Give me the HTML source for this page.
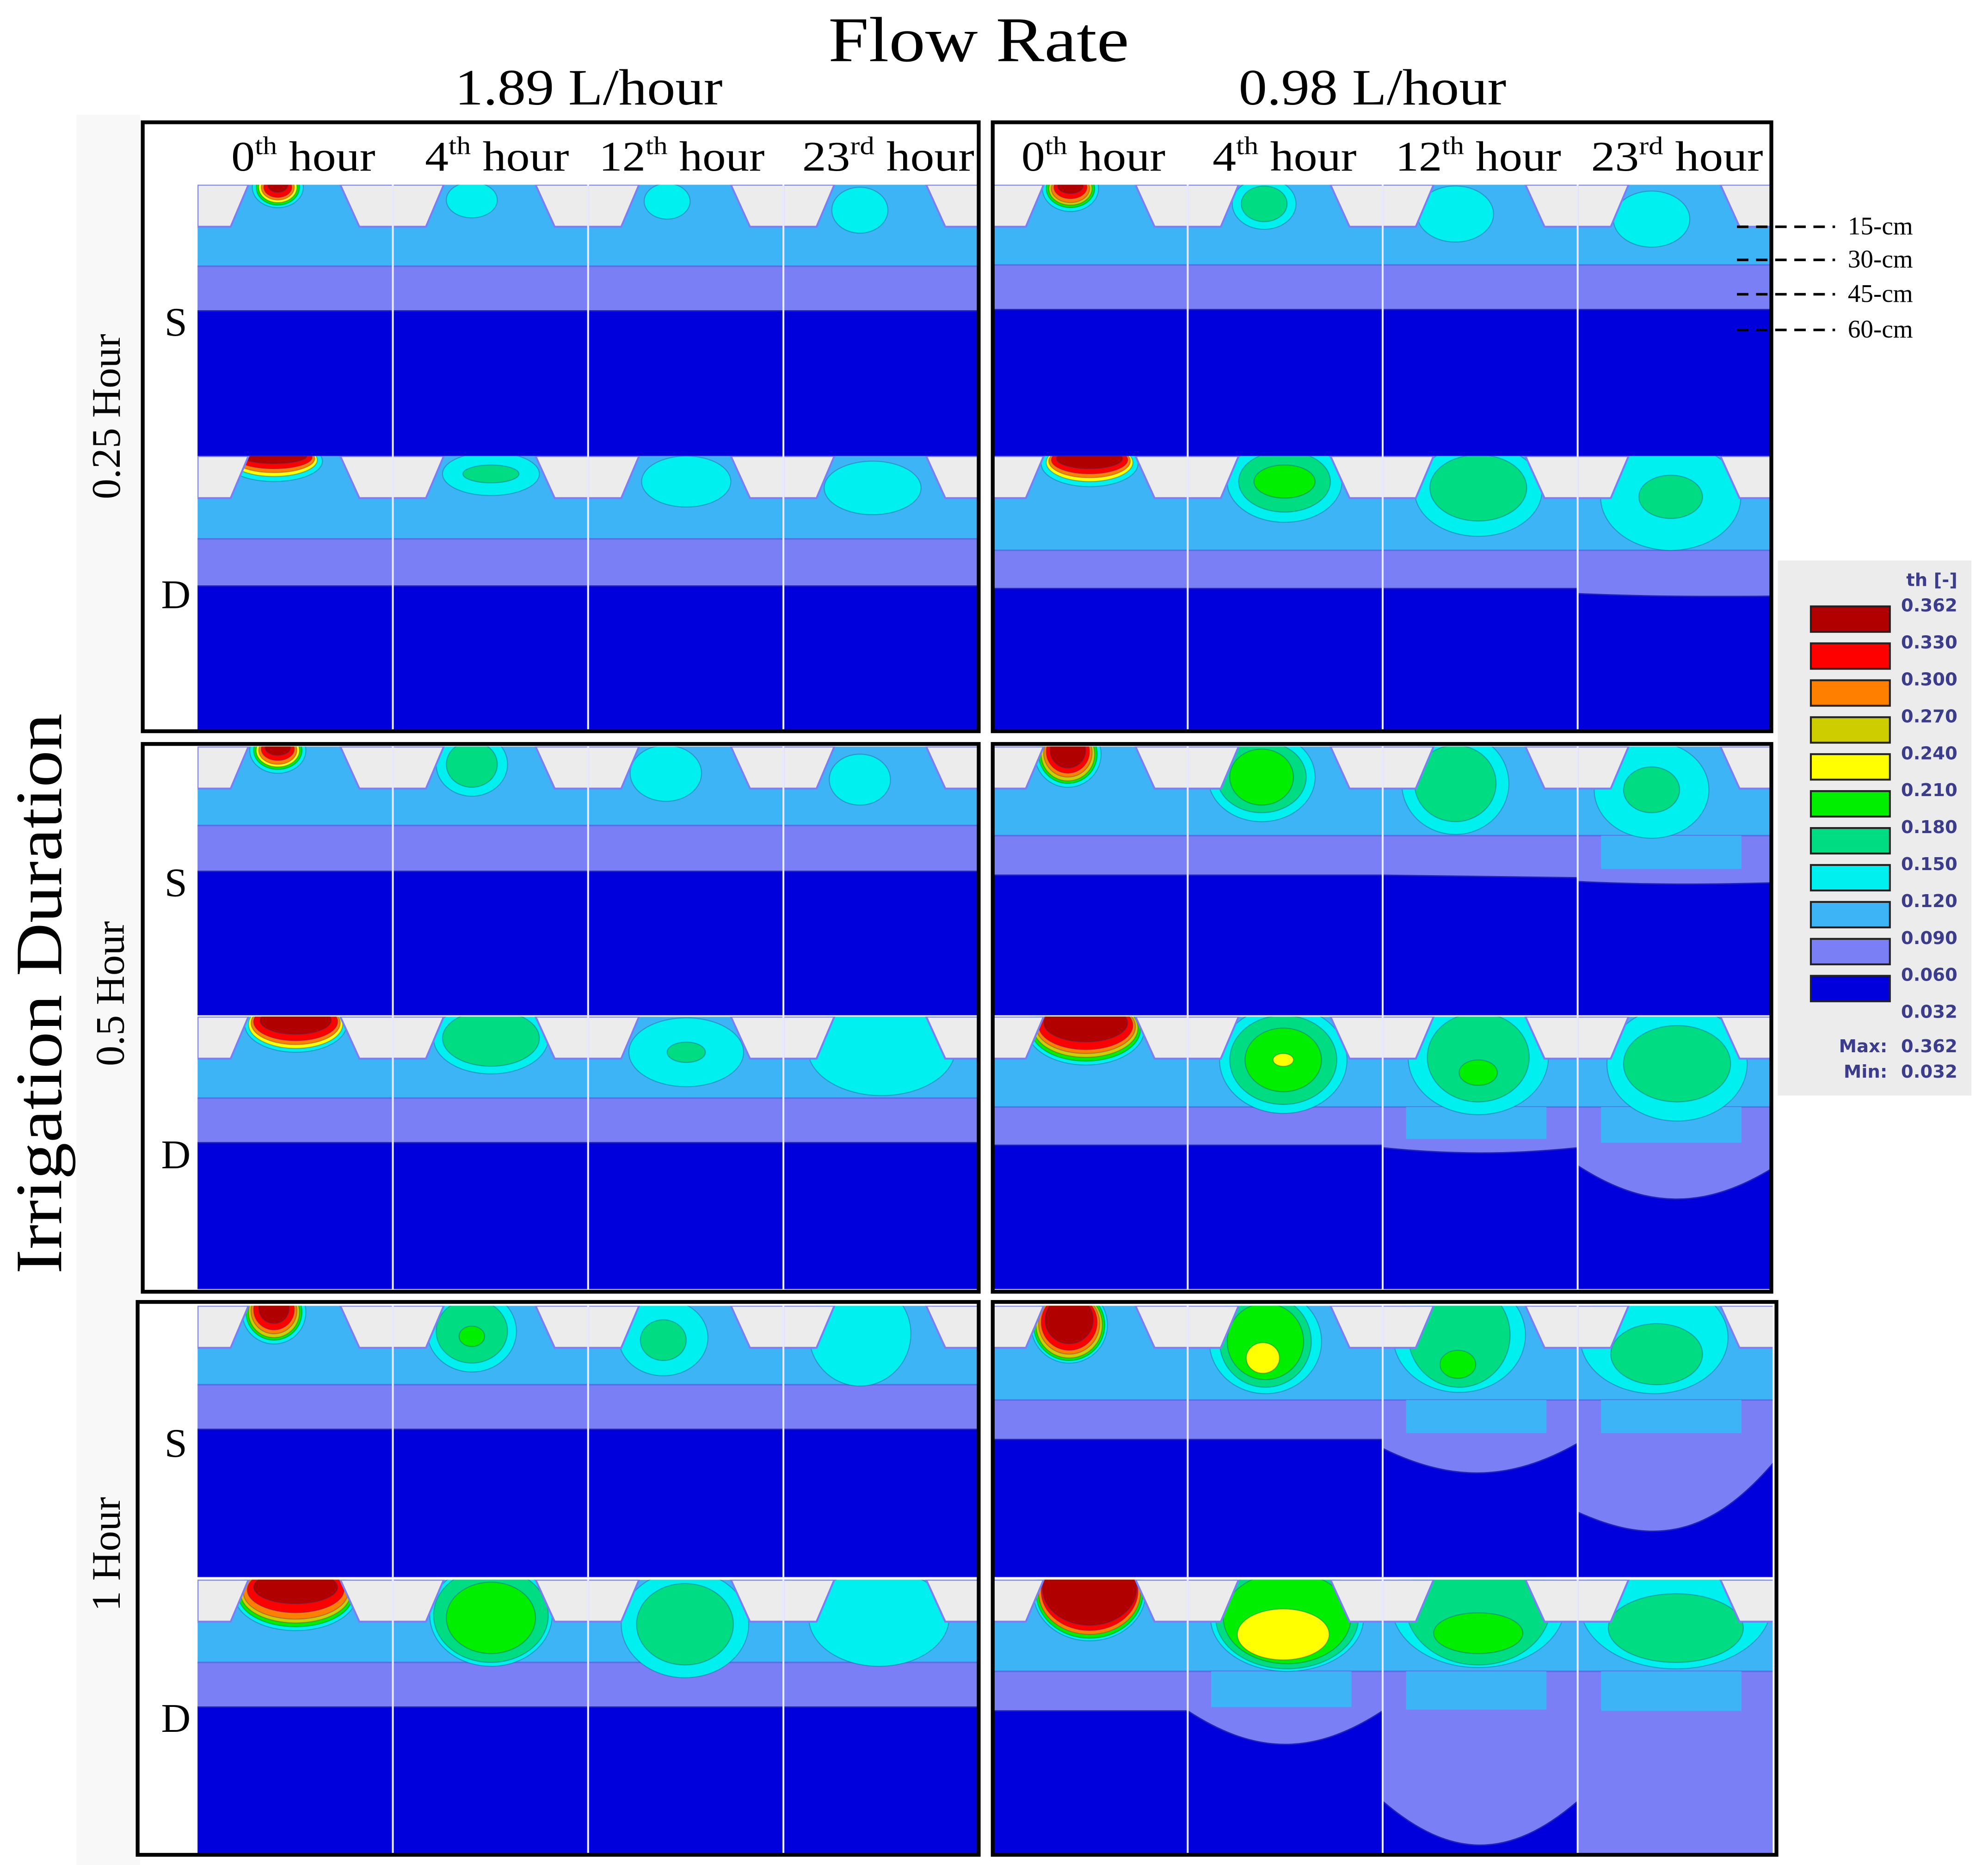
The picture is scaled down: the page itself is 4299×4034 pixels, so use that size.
<!DOCTYPE html>
<html><head><meta charset="utf-8"><style>
html,body{margin:0;padding:0;background:#fff;}
svg{display:block;}
text{font-family:"Liberation Serif",serif;fill:#000;}
.leg{font-family:"DejaVu Sans","Liberation Sans",sans-serif;fill:#3c3c8c;font-weight:bold;}
</style></head><body>
<svg id="fig" xmlns="http://www.w3.org/2000/svg" width="4299" height="4034" viewBox="0 0 1560 1464" preserveAspectRatio="none">
<rect x="0" y="0" width="1560" height="1464" fill="#fff"/>
<rect x="60" y="90" width="50" height="1374" fill="#f8f8f8"/>
<text x="768" y="48" font-size="50" text-anchor="middle" textLength="236" lengthAdjust="spacingAndGlyphs">Flow Rate</text>
<text x="462" y="82" font-size="40" text-anchor="middle" textLength="210" lengthAdjust="spacingAndGlyphs">1.89 L/hour</text>
<text x="1077" y="82" font-size="40" text-anchor="middle" textLength="210" lengthAdjust="spacingAndGlyphs">0.98 L/hour</text>
<text transform="translate(48,780) rotate(-90)" font-size="52" text-anchor="middle" textLength="440" lengthAdjust="spacingAndGlyphs">Irrigation Duration</text>
<text transform="translate(94,327) rotate(-90)" font-size="32" text-anchor="middle">0.25 Hour</text>
<text transform="translate(97,780) rotate(-90)" font-size="32" text-anchor="middle">0.5 Hour</text>
<text transform="translate(94,1220) rotate(-90)" font-size="32" text-anchor="middle">1 Hour</text>
<g id="plots"></g>
<g id="frames"></g>
<g id="legend"></g>
</svg>
<script>
const NS='http://www.w3.org/2000/svg';
const levelColors=['#b00000','#ff0000','#ff8000','#cdcd00','#ffff00','#00ee00','#00dc82','#00f0f0','#3cb4f5','#7b7ff5','#0000dc'];
const levelLabels=['0.362','0.330','0.300','0.270','0.240','0.210','0.180','0.150','0.120','0.090','0.060','0.032'];
const hourLabels=[['0','th'],['4','th'],['12','th'],['23','rd']];
// subplot layout: [side(0 left,1 right), top, height, rowLabel]
const subplots=[
 [0,145,213,'S'],[0,358,215,'D'],[1,145,213,'S'],[1,358,215,'D'],
 [0,586,211,'S'],[0,798,214,'D'],[1,586,211,'S'],[1,798,214,'D'],
 [0,1025,213,'S'],[0,1240,215,'D'],[1,1025,213,'S'],[1,1240,216,'D']];
// light-blue -> purple boundary depth per subplot
const lightDepth=[64,65,63,74, 62,64,70,71, 62,65,74,72];
// dark-blue top per cell: [left, center, right]
const darkTop=[
 [[99,99,99],[99,99,99],[99,99,99],[99,99,99]],
 [[102,102,102],[102,102,102],[102,102,102],[102,102,102]],
 [[98,98,98],[98,98,98],[98,98,98],[98,98,98]],
 [[104,104,104],[104,104,104],[104,104,104],[108,110,110]],
 [[98,98,98],[98,98,98],[98,98,98],[98,98,98]],
 [[99,99,99],[99,99,99],[99,99,99],[99,99,99]],
 [[101,101,101],[101,101,101],[101,102,103],[106,108,107]],
 [[101,101,101],[101,101,101],[103,107,103],[117,143,119]],
 [[97,97,97],[97,97,97],[97,97,97],[97,97,97]],
 [[100,100,100],[100,100,100],[100,100,100],[100,100,100]],
 [[105,105,105],[105,105,105],[112,131,108],[162,175,124]],
 [[103,103,103],[103,129,103],[174,208,174],[230,230,230]]];
// light-blue extension (patch below the wetting bulb) per cell, 0 = none
const lightExt=[
 [0,0,0,0],[0,0,0,0],[0,0,0,0],[0,0,0,0],
 [0,0,0,0],[0,0,0,0],[0,0,0,96],[0,0,96,99],
 [0,0,0,0],[0,0,0,0],[0,0,100,100],[0,100,102,103]];
// wetting bulbs per cell: [level, dx, dy, rx, ry]
const bulbs=[
 [[[7,63,2,20,16],[5,63,2,17,14],[4,63,2,15,12],[2,63,2,13,10],[1,63,2,11,8],[0,63,0,8,6]],[[7,62,12,20,14]],[[7,62,13,18,14]],[[7,60,20,22,18]]],
 [[[7,60,4,38,16],[4,60,3,34,13],[2,60,2,32,11],[1,60,1,30,9],[0,60,0,26,6]],[[7,77,14,38,17],[6,77,14,22,7]],[[7,77,20,35,20]],[[7,70,25,38,21]]],
 [[[7,61,3,22,18],[5,61,3,19,15],[3,61,3,17,13],[2,61,3,15,11],[1,61,2,13,9],[0,61,1,10,6]],[[7,60,15,25,20],[6,60,15,18,14]],[[7,57,23,30,22]],[[7,58,27,30,22]]],
 [[[7,76,6,38,18],[4,76,5,34,15],[2,76,4,32,13],[1,76,3,30,11],[0,76,2,26,8]],[[7,76,20,45,32],[6,76,20,36,24],[5,76,20,24,13]],[[7,75,27,50,36],[6,75,25,38,26]],[[7,73,32,55,42],[6,73,32,25,17]]],
 [[[7,63,3,22,18],[5,63,3,19,15],[4,63,3,17,13],[2,63,3,15,11],[1,63,2,13,9],[0,63,1,10,6]],[[7,62,14,28,25],[6,62,14,20,18]],[[7,61,21,28,22]],[[7,60,26,24,20]]],
 [[[7,77,6,40,22],[4,77,6,37,19],[2,77,5,35,17],[1,77,4,33,15],[0,77,3,28,11]],[[7,77,17,45,28],[6,77,17,38,22]],[[7,77,28,45,27],[6,77,28,15,8]],[[7,77,25,58,37]]],
 [[[7,59,6,26,26],[5,59,6,23,23],[3,59,6,21,21],[2,59,5,19,19],[1,59,4,17,17],[0,59,3,14,14]],[[7,58,24,42,35],[6,58,24,35,28],[5,58,24,25,22]],[[7,57,29,42,40],[6,57,29,32,30]],[[7,58,34,45,38],[6,58,34,22,18]]],
 [[[7,73,10,46,28],[5,73,10,43,25],[3,73,9,41,23],[2,73,8,39,21],[1,73,7,37,19],[0,73,5,33,15]],[[7,75,34,50,42],[6,75,34,42,35],[5,75,34,30,25],[4,75,34,8,5]],[[7,75,32,55,45],[6,75,32,40,35],[5,75,44,15,10]],[[7,78,37,55,45],[6,78,37,42,30]]],
 [[[7,60,5,25,25],[5,60,5,22,22],[3,60,5,20,20],[2,60,4,18,18],[1,60,3,16,16],[0,60,2,12,12]],[[7,62,20,35,32],[6,62,20,28,25],[5,62,24,10,8]],[[7,59,25,35,30],[6,59,27,18,16]],[[7,60,22,40,41]]],
 [[[7,77,12,48,28],[5,77,12,45,25],[3,77,11,43,23],[2,77,10,41,21],[1,77,8,38,18],[0,77,6,33,13]],[[7,77,28,48,40],[6,77,28,45,37],[5,77,30,35,28]],[[7,76,35,50,42],[6,76,35,38,32]],[[7,75,30,55,38]]],
 [[[7,60,15,30,30],[5,60,15,28,28],[3,60,15,26,26],[2,60,14,24,24],[1,60,13,22,22],[0,60,11,19,19]],[[7,61,28,44,41],[6,61,28,36,36],[5,61,28,30,30],[4,59,41,13,12]],[[7,60,23,52,45],[6,60,23,40,41],[5,59,46,14,11]],[[7,60,25,58,44],[6,62,38,36,24]]],
 [[[7,76,10,44,38],[5,76,10,42,36],[2,76,10,40,33],[1,76,9,38,31],[0,76,7,37,29]],[[7,78,30,60,42],[6,78,30,56,40],[5,78,30,50,36],[4,75,43,36,20]],[[7,75,20,68,49],[6,75,20,57,47],[5,75,42,35,16]],[[7,77,20,75,50],[6,77,38,53,27]]]];

const sideX=[155,779], sideW=[613,612];
const plots=document.getElementById('plots');
function mk(tag,attrs,parent){const e=document.createElementNS(NS,tag);for(const k in attrs)e.setAttribute(k,attrs[k]);parent.appendChild(e);return e;}
const defs=mk('defs',{},plots);
subplots.forEach((sp,si)=>{
  const [side,top,h,lab]=sp;
  const x0=sideX[side], cw=sideW[side]/4;
  const g=mk('g',{},plots);
  
  
  for(let c=0;c<4;c++){
    const cx=x0+c*cw;
    const cid='clip'+si+'_'+c;
    const cp=mk('clipPath',{id:cid},defs);
    mk('rect',{x:cx,y:top,width:cw,height:h},cp);
    const cell=mk('g',{'clip-path':'url(#'+cid+')'},g);
    
    
    mk('rect',{x:cx,y:top,width:cw,height:h,fill:levelColors[8]},cell);
    const ld=top+lightDepth[si];
    mk('rect',{x:cx,y:ld,width:cw,height:h,fill:levelColors[9]},cell);
    mk('line',{x1:cx,y1:ld,x2:cx+cw,y2:ld,stroke:'#5a6ee6','stroke-width':1.2},cell);
    const ext=lightExt[si][c];
    if(ext>0){mk('rect',{x:cx+cw*0.12,y:ld,width:cw*0.72,height:ext-lightDepth[si],fill:levelColors[8]},cell);}
    const d=darkTop[si][c];
    const p='M'+cx+','+(top+d[0])+' C'+(cx+cw*0.35)+','+(top+d[1]+(d[1]-(d[0]+d[2])/2)*0.35)+' '+(cx+cw*0.65)+','+(top+d[1]+(d[1]-(d[0]+d[2])/2)*0.35)+' '+(cx+cw)+','+(top+d[2])+' L'+(cx+cw)+','+(top+h)+' L'+cx+','+(top+h)+'Z';
    const dk=mk('path',{d:p,fill:levelColors[10],stroke:'#2020c0','stroke-width':1},cell);
    
    
    bulbs[si][c].forEach(b=>{
      const e=mk('ellipse',{cx:cx+b[1],cy:top+b[2],rx:b[3],ry:b[4],fill:levelColors[b[0]],stroke:'rgba(40,60,120,0.35)','stroke-width':0.8},cell);
      
      
    });
    const gh=33;
    const gl=mk('path',{d:'M'+cx+','+top+' L'+(cx+40)+','+top+' L'+(cx+26)+','+(top+gh)+' L'+cx+','+(top+gh)+'Z',fill:'#ececec',stroke:levelColors[9],'stroke-width':1.5},cell);
    
    
    const gr=mk('path',{d:'M'+(cx+112)+','+top+' L'+(cx+cw+1)+','+top+' L'+(cx+cw+1)+','+(top+gh)+' L'+(cx+127)+','+(top+gh)+'Z',fill:'#ececec',stroke:levelColors[9],'stroke-width':1.5},cell);
    
    
    if(c>0){mk('line',{x1:cx,y1:top,x2:cx,y2:top+h,stroke:'#e8e8ff','stroke-width':1.5},g);}
  }
  const t=mk('text',{x:side?0:138,y:top+h/2+12,'font-size':32,'text-anchor':'middle'},g);
  if(side===0){t.textContent=lab;}
  
  
});
// frames
const frames=document.getElementById('frames');
const frameRects=[[112,96,656,478],[779,96,611,478],[112,584,656,430],[779,584,611,430],[108,1022,660,434],[779,1022,615,434]];
frameRects.forEach((r,i)=>{
  const f=mk('rect',{x:r[0],y:r[1],width:r[2],height:r[3],fill:'none',stroke:'#000','stroke-width':3},frames);
  
  
});
// header column labels
const headCenters=[[238,390,535,697],[858,1008,1160,1316]];
const headWidths=[113,113,130,135];
headCenters.forEach((arr,s)=>arr.forEach((x,c)=>{
  const t=mk('text',{x:x,y:134,'font-size':33,'text-anchor':'middle',textLength:headWidths[c],lengthAdjust:'spacingAndGlyphs'},frames);
  
  
  const a=document.createElementNS(NS,'tspan');a.textContent=hourLabels[c][0];t.appendChild(a);
  const b=document.createElementNS(NS,'tspan');b.setAttribute('font-size','20');b.setAttribute('dy','-13');b.textContent=hourLabels[c][1];t.appendChild(b);
  const d=document.createElementNS(NS,'tspan');d.setAttribute('dy','13');d.textContent=' hour';t.appendChild(d);
}));
// depth markers
const depthLabels=['15-cm','30-cm','45-cm','60-cm'];
const depthY=[178,204,231,259];
depthLabels.forEach((l,i)=>{
  const ln=mk('line',{x1:1363,y1:depthY[i],x2:1440,y2:depthY[i],stroke:'#000','stroke-width':2,'stroke-dasharray':'9,6'},frames);
  
  
  const t=mk('text',{x:1450,y:depthY[i]+6,'font-size':20},frames);
  t.textContent=l;
  
  
});
// legend
const lg=document.getElementById('legend');


mk('rect',{x:1395,y:440,width:152,height:420,fill:'#ececec'},lg);
const th=mk('text',{x:1536,y:460,'font-size':14,'text-anchor':'end',class:'leg'},lg);
th.textContent='th [-]';


levelColors.forEach((col,i)=>{
  const r=mk('rect',{x:1421,y:476+i*29,width:62,height:20,fill:col,stroke:'#222','stroke-width':1.5},lg);
  
  
});
levelLabels.forEach((l,i)=>{
  const t=mk('text',{x:1536,y:480+i*29,'font-size':14,'text-anchor':'end',class:'leg'},lg);
  t.textContent=l;
  
  
});
[['Max:','0.362',826],['Min:','0.032',846]].forEach(m=>{
  const a=mk('text',{x:1481,y:m[2],'font-size':14,'text-anchor':'end',class:'leg'},lg);a.textContent=m[0];
  
  
  const b=mk('text',{x:1536,y:m[2],'font-size':14,'text-anchor':'end',class:'leg'},lg);b.textContent=m[1];
  
  
});
</script>
</body></html>
